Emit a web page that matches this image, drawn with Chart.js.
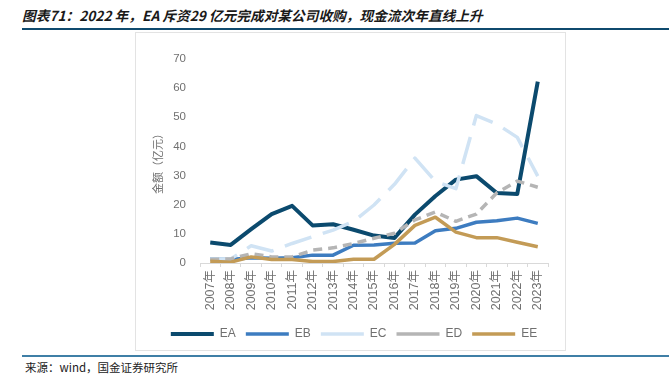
<!DOCTYPE html>
<html lang="zh">
<head>
<meta charset="utf-8">
<title>图表71</title>
<script src="https://cdn.jsdelivr.net/npm/chart.js@4/dist/chart.umd.min.js"></script>
<style>
  html, body { margin: 0; padding: 0; background: #fff; }
  body { width: 669px; height: 377px; position: relative; overflow: hidden; }
  #titulo {
    position: absolute; left: 22px; top: 5px;
    font: italic bold 13.7px "Noto Sans CJK SC", sans-serif;
    color: #1a1a1a; white-space: nowrap;
  }
  #lineaTitulo { position: absolute; left: 22px; right: 0; top: 28px; height: 2px; background: #0f4a6e; }
  #marco {
    position: absolute; left: 135px; top: 32px; width: 429px; height: 317px;
    border: 1px solid #e3e3e3;
  }
  #marco canvas { position: absolute; left: 0; top: 0; }
  #lineaFuente { position: absolute; left: 22px; right: 0; top: 355px; height: 2px; background: #3f7fa6; }
  #fuente {
    position: absolute; left: 25px; top: 359px;
    font: 11.5px "Noto Sans CJK SC", sans-serif; color: #222; white-space: nowrap;
  }
</style>
</head>
<body>
<div id="titulo">图表71：2022 年，EA 斥资29 亿元完成对某公司收购，现金流次年直线上升</div>
<div id="lineaTitulo"></div>
<div id="marco"><canvas id="flujoChart" width="429" height="317"></canvas></div>
<div id="lineaFuente"></div>
<div id="fuente">来源：wind，国金证券研究所</div>

<script>
// --- Datos (亿元) ---
const anios = ["2007年", "2008年", "2009年", "2010年", "2011年", "2012年", "2013年", "2014年", "2015年",
  "2016年", "2017年", "2018年", "2019年", "2020年", "2021年", "2022年", "2023年"];
const serieEA = [7.0, 6.2, 11.6, 16.8, 19.6, 12.9, 13.3, 11.4, 9.4, 8.6, 16.6, 23.0, 28.6, 29.8, 24.0, 23.7, 62.2];
const serieEB = [1.4, 1.2, 1.8, 1.6, 1.8, 2.7, 2.7, 6.1, 6.2, 6.8, 6.9, 11.1, 11.9, 14.0, 14.5, 15.4, 13.6];
const serieEC = [1.4, 1.4, 5.9, 4.1, 6.7, 9.0, 11.3, 14.3, 19.9, 27.0, 36.0, 28.0, 25.5, 50.6, 47.7, 43.1, 29.8];
const serieED = [1.2, 1.4, 3.2, 2.1, 2.1, 4.4, 5.2, 6.7, 8.5, 10.2, 14.8, 17.5, 14.3, 16.8, 24.1, 28.1, 26.0];
const serieEE = [0.6, 0.3, 2.1, 1.2, 1.2, 0.5, 0.5, 1.3, 1.3, 6.4, 12.9, 15.7, 10.6, 8.7, 8.7, 7.1, 5.6];
const ejeYMax = 70;
const ejeYPaso = 10;

document.addEventListener("DOMContentLoaded", () => {
  const gris = "#707070";

  // helper para cada serie (sin puntos, línea recta)
  function crearSerie(label, data, color, ancho, dash, orden) {
    return {
      label: label,
      data: data,
      borderColor: color,
      backgroundColor: color,
      borderWidth: ancho,
      borderDash: dash,
      borderCapStyle: "butt",
      borderJoinStyle: "round",
      pointRadius: 0,
      pointHoverRadius: 0,
      pointStyle: "line",
      tension: 0,
      fill: false,
      yAxisID: "y",
      order: orden, // las últimas series quedan encima, como en Excel
    };
  }

  const ctx = document.getElementById("flujoChart").getContext("2d");
  new Chart(ctx, {
    type: "line",
    data: {
      labels: anios,
      datasets: [
        crearSerie("EA", serieEA, "#0b4a6e", 4, [], 5),
        crearSerie("EB", serieEB, "#3d7cc0", 3.5, [], 4),
        crearSerie("EC", serieEC, "#d0e3f4", 3.5, [28, 12], 3),
        crearSerie("ED", serieED, "#b5b5b5", 3.5, [9, 6], 2),
        crearSerie("EE", serieEE, "#c39b56", 3.5, [], 1),
      ],
    },
    options: {
      responsive: false,
      devicePixelRatio: 1,
      animation: false,
      layout: { padding: { top: 26, right: 0, left: 7, bottom: 0 } },
      scales: {
        x: {
          offset: true,
          grid: {
            offset: true,
            drawOnChartArea: false,
            drawTicks: true,
            tickLength: 4,
            color: "#d9d9d9",
          },
          border: { display: true, color: "#d9d9d9", width: 1 },
          ticks: {
            minRotation: 90,
            maxRotation: 90,
            autoSkip: false,
            padding: 3,
            color: gris,
            font: { family: "'Liberation Sans', 'Noto Sans CJK SC'", size: 12.5 },
          },
          afterFit: (scale) => { scale.height = 55; },
        },
        y: {
          min: 0,
          max: ejeYMax,
          grid: { display: false, drawTicks: false },
          border: { display: false },
          ticks: {
            stepSize: ejeYPaso,
            padding: 14,
            color: gris,
            font: { family: "'Liberation Sans'", size: 11.5 },
          },
          title: {
            display: true,
            text: "金额（亿元）",
            color: gris,
            padding: { top: 8, bottom: 0 },
            font: { family: "'Noto Sans CJK SC'", size: 11 },
          },
          afterFit: (scale) => { scale.width = 57; },
        },
        // eje vacío a la derecha: solo reserva el margen del área
        margen: {
          type: "linear",
          position: "right",
          grid: { display: false, drawTicks: false },
          border: { display: false },
          ticks: { display: false },
          afterFit: (scale) => { scale.width = 17; },
        },
      },
      plugins: {
        legend: {
          position: "bottom",
          labels: {
            usePointStyle: true,
            pointStyle: "line",
            pointStyleWidth: 43,
            boxHeight: 12,
            padding: 10,
            color: gris,
            font: { family: "'Liberation Sans'", size: 12 },
            sort: (a, b) => a.datasetIndex - b.datasetIndex,
          },
        },
        tooltip: { enabled: false },
      },
    },
  });
});
</script>
</body>
</html>
